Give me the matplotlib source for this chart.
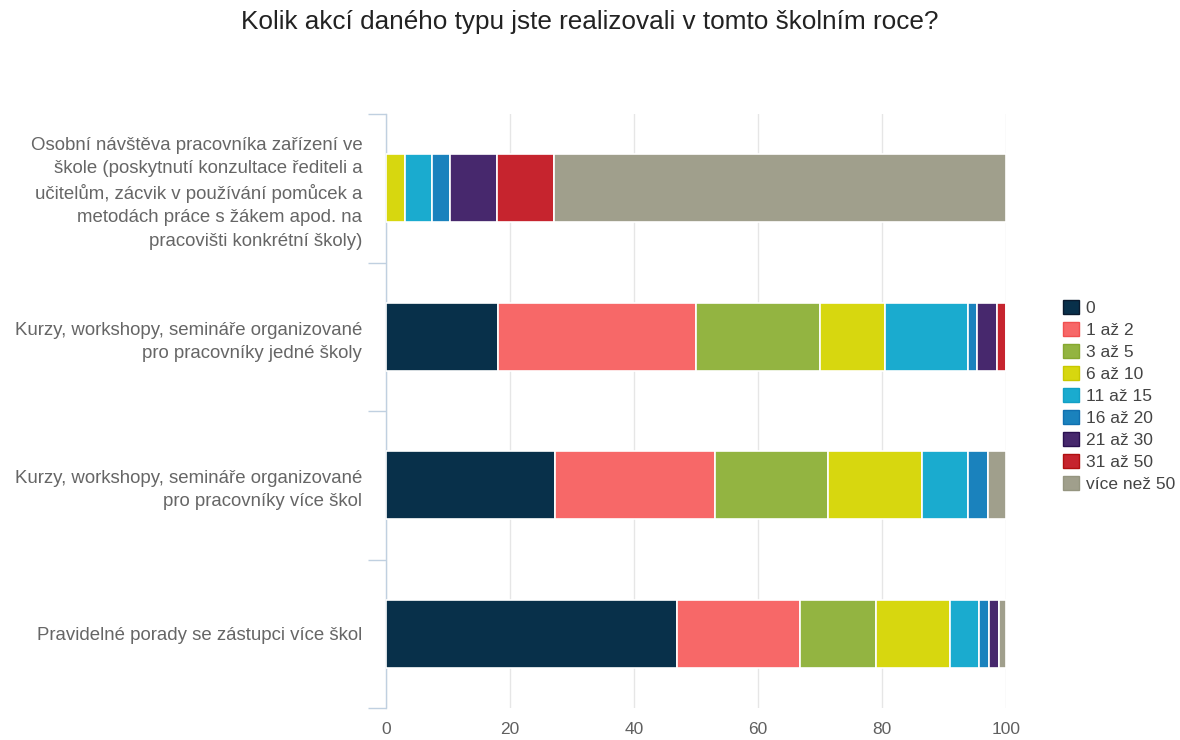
import matplotlib.pyplot as plt
import numpy as np

plt.rcParams['font.family'] = ['Liberation Sans', 'DejaVu Sans']

categories = [
    'Osobní návštěva pracovníka zařízení ve\nškole (poskytnutí konzultace řediteli a\n'
    'učitelům, zácvik v používání pomůcek a\nmetodách práce s žákem apod. na\n'
    'pracovišti konkrétní školy)',
    'Kurzy, workshopy, semináře organizované\npro pracovníky jedné školy',
    'Kurzy, workshopy, semináře organizované\npro pracovníky více škol',
    'Pravidelné porady se zástupci více škol',
]

series = ['0', '1 až 2', '3 až 5', '6 až 10', '11 až 15',
          '16 až 20', '21 až 30', '31 až 50', 'více než 50']

# percentages per category, one list per series
v_0 = [0, 18.0, 27.2, 46.9]
v_1_2 = [0, 32.0, 25.9, 19.9]
v_3_5 = [0, 20.0, 18.2, 12.2]
v_6_10 = [3.0, 10.5, 15.1, 12.0]
v_11_15 = [4.4, 13.3, 7.5, 4.7]
v_16_20 = [2.9, 1.6, 3.2, 1.5]
v_21_30 = [7.6, 3.2, 0, 1.6]
v_31_50 = [9.2, 1.4, 0, 0]
v_over_50 = [72.9, 0, 2.9, 1.2]

values = [v_0, v_1_2, v_3_5, v_6_10, v_11_15, v_16_20, v_21_30, v_31_50, v_over_50]

colors = ['#08304a', '#f76868', '#93b441', '#d7d70f', '#1aabcf',
          '#1a82bd', '#47286d', '#c6242e', '#a09f8c']
edges = ['#0a1a2e', '#f05050', '#86a830', '#c8c800', '#12a0c5',
         '#1070b0', '#2a1050', '#b01010', '#959580']

fig = plt.figure(figsize=(11.8, 7.4), dpi=100)
ax = fig.add_axes([0.3271, 0.0432, 0.5254, 0.8027])

y = np.arange(len(categories))
left = np.zeros(len(categories))
for name, vals, c in zip(series, values, colors):
    vals = np.array(vals, dtype=float)
    ax.barh(y, vals, left=left, height=0.46, color=c, edgecolor='white',
            linewidth=1.2, label=name, zorder=3)
    left += vals

ax.set_xlim(0, 100)
ax.set_ylim(3.5, -0.5)
ax.set_xticks([0, 20, 40, 60, 80, 100])
ax.xaxis.grid(True, color='#e6e6e6', linewidth=1, zorder=0)
ax.tick_params(axis='x', length=0, pad=10, labelsize=12.5, labelcolor='#606060')

ax.set_yticks(y)
ax.set_yticklabels(categories, fontsize=13.4, color='#666666', linespacing=1.47)
ax.tick_params(axis='y', which='major', length=0, pad=17)
ax.set_yticks([-0.5, 0.5, 1.5, 2.5, 3.5], minor=True)
ax.tick_params(axis='y', which='minor', length=13, width=1, color='#c0d0e0')

for s in ['top', 'right', 'bottom']:
    ax.spines[s].set_visible(False)
ax.spines['left'].set_color('#c0d0e0')
ax.spines['left'].set_linewidth(1)

fig.text(0.5, 0.970, 'Kolik akcí daného typu jste realizovali v tomto školním roce?',
         ha='center', va='center', fontsize=18.8, color='#222222')

handles, labels = ax.get_legend_handles_labels()
leg = fig.legend(handles, labels, loc='upper left', bbox_to_anchor=(0.895, 0.604),
                 frameon=False, fontsize=12.5, labelcolor='#444444',
                 handlelength=0.9, handleheight=0.85, handletextpad=0.4,
                 labelspacing=0.35, borderaxespad=0)
for patch, ec in zip(leg.get_patches(), edges):
    patch.set_edgecolor(ec)
    patch.set_linewidth(1)

fig.savefig('out.png', dpi=100)
